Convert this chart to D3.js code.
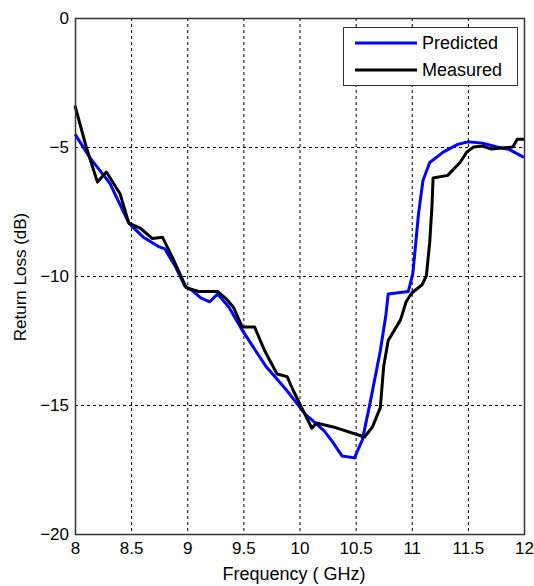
<!DOCTYPE html>
<html lang="en">
<head>
<meta charset="utf-8">
<title>Return Loss</title>
<script src="https://cdn.jsdelivr.net/npm/d3@7"></script>
<style>
  body { margin: 0; background: #fff; }
  text { font-family: "Liberation Sans", Arial, sans-serif; fill: #000; }
  .grid line { stroke: #000; stroke-dasharray: 3,3; stroke-width: 1; }
  .line { fill: none; stroke-width: 3px; stroke-linejoin: round; }
</style>
</head>
<body>
<script>
// data
var predFreq = [8.00, 8.13, 8.31, 8.48, 8.61, 8.74, 8.80, 8.89, 8.98, 9.04, 9.12, 9.20, 9.27, 9.37, 9.49,
  9.70, 9.88, 10.06, 10.09, 10.22, 10.29, 10.38, 10.49, 10.56, 10.63, 10.72, 10.77, 10.79, 10.97,
  11.01, 11.06, 11.10, 11.16, 11.28, 11.41, 11.50, 11.63, 11.76, 11.87, 12.00];
var predLoss = [-4.5, -5.4, -6.4, -7.95, -8.5, -8.85, -8.95, -9.6, -10.4, -10.55, -10.85, -11.0, -10.7, -11.2, -12.1,
  -13.5, -14.4, -15.4, -15.5, -16.0, -16.4, -16.98, -17.05, -16.35, -14.9, -12.9, -11.5, -10.7, -10.6,
  -9.9, -7.6, -6.3, -5.6, -5.2, -4.9, -4.8, -4.85, -5.0, -5.1, -5.4];

var measFreq = [8.00, 8.10, 8.20, 8.28, 8.40, 8.48, 8.58, 8.69, 8.78, 8.87, 8.99, 9.10, 9.16, 9.27, 9.35,
  9.41, 9.49, 9.60, 9.69, 9.80, 9.89, 9.94, 10.03, 10.11, 10.15, 10.30, 10.58, 10.65, 10.72, 10.75,
  10.79, 10.90, 10.95, 11.00, 11.09, 11.13, 11.16, 11.18, 11.19, 11.32, 11.43, 11.49, 11.55, 11.63,
  11.71, 11.90, 11.94, 12.00];
var measLoss = [-3.4, -5.0, -6.36, -5.97, -6.8, -7.95, -8.14, -8.55, -8.5, -9.3, -10.45, -10.6, -10.6, -10.6, -10.9,
  -11.2, -11.98, -11.98, -12.9, -13.8, -13.9, -14.4, -15.2, -15.9, -15.7, -15.85, -16.24, -15.85, -15.1, -13.5,
  -12.5, -11.7, -11.0, -10.66, -10.35, -10.0, -8.7, -7.3, -6.2, -6.1, -5.6, -5.2, -5.0, -4.96,
  -5.08, -5.0, -4.7, -4.7];

var xTicks = [8, 8.5, 9, 9.5, 10, 10.5, 11, 11.5, 12];
var yTicks = [0, -5, -10, -15, -20];
var seriesNames = ["Predicted", "Measured"];
var seriesColors = ["#0000ff", "#000000"];

var width = 534, height = 586;
var margin = {left: 75, top: 18, right: 10, bottom: 52};
var w = width - margin.left - margin.right;
var h = height - margin.top - margin.bottom;

var svg = d3.select("body").append("svg")
    .attr("width", width)
    .attr("height", height);

var g = svg.append("g")
    .attr("transform", "translate(" + margin.left + "," + margin.top + ")");

var x = d3.scaleLinear().domain([8, 12]).range([0, w]);
var y = d3.scaleLinear().domain([-20, 0]).range([h, 0]);

// grid
var grid = g.append("g").attr("class", "grid");
grid.selectAll(".gx").data(xTicks.slice(1, -1)).join("line")
    .attr("x1", d => x(d) + 0.5).attr("x2", d => x(d) + 0.5)
    .attr("y1", 0).attr("y2", h);
grid.selectAll(".gy").data(yTicks.slice(1, -1)).join("line")
    .attr("class", "gy")
    .attr("y1", d => y(d) + 0.5).attr("y2", d => y(d) + 0.5)
    .attr("x1", 0).attr("x2", w);

// axes
var xAxis = d3.axisBottom(x).tickValues(xTicks).tickSize(0).tickPadding(8).tickFormat(d3.format("~g"));
var yAxis = d3.axisLeft(y).tickValues(yTicks).tickSize(0).tickPadding(6).tickFormat(d3.format("~g"));

g.append("g").attr("transform", "translate(0," + h + ")").call(xAxis)
    .call(a => a.select(".domain").remove())
    .selectAll("text").style("font-size", "17px").attr("fill", "#000");
g.append("g").call(yAxis)
    .call(a => a.select(".domain").remove())
    .selectAll("text").style("font-size", "17px").attr("fill", "#000");

// lines
var line = d3.line().x(d => x(d[0])).y(d => y(d[1]));
var series = [d3.zip(predFreq, predLoss), d3.zip(measFreq, measLoss)];

g.selectAll(".line").data(series).join("path")
    .attr("class", "line")
    .attr("stroke", (d, i) => seriesColors[i])
    .attr("d", line);

// frame
g.append("rect")
    .attr("x", 0.5).attr("y", 0.5)
    .attr("width", w).attr("height", h)
    .attr("fill", "none").attr("stroke", "#333").attr("stroke-width", 1.5);

// legend
var lg = g.append("g").attr("transform", "translate(" + (343 - margin.left) + "," + (27 - margin.top) + ")");
lg.append("rect")
    .attr("x", 0.5).attr("y", 0.5).attr("width", 174).attr("height", 58)
    .attr("fill", "#fff").attr("stroke", "#333").attr("stroke-width", 1);
var items = lg.selectAll(".item").data(seriesNames).join("g")
    .attr("transform", (d, i) => "translate(0," + (16 + i * 27) + ")");
items.append("line")
    .attr("x1", 12).attr("x2", 74).attr("y1", 0).attr("y2", 0)
    .attr("stroke", (d, i) => seriesColors[i]).attr("stroke-width", 3);
items.append("text")
    .attr("x", 79).attr("y", 6)
    .style("font-size", "18px")
    .text(d => d);

// axis labels
svg.append("text")
    .attr("x", 294).attr("y", 580)
    .attr("text-anchor", "middle")
    .style("font-size", "18px")
    .text("Frequency ( GHz)");
svg.append("text")
    .attr("transform", "translate(26,277) rotate(-90)")
    .attr("text-anchor", "middle")
    .style("font-size", "17px")
    .text("Return Loss (dB)");
</script>
</body>
</html>
